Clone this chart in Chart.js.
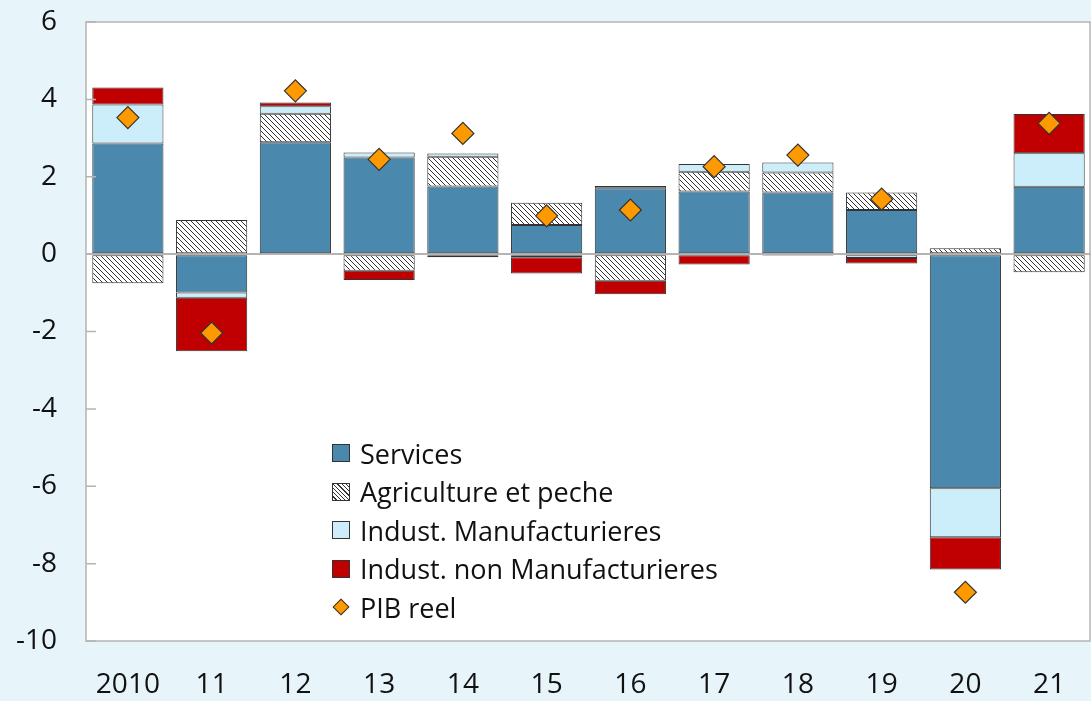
<!DOCTYPE html>
<html lang="fr">
<head>
<meta charset="utf-8">
<title>Contributions à la croissance du PIB réel</title>
<script src="https://cdn.jsdelivr.net/npm/chart.js@4/dist/chart.umd.min.js"></script>
<style>
  html, body { margin: 0; padding: 0; background: #e7f4fa; }
  #wrap { position: relative; width: 1091px; height: 701px; overflow: hidden; }
  #chart { display: block; }
  #legend {
    position: absolute; left: 332px; top: 434px;
    font-family: 'Open Sans', 'Noto Sans', sans-serif; font-size: 27px; color: #111;
  }
  .item { display: flex; align-items: center; height: 38.5px; white-space: nowrap; }
  .sw { width: 18px; height: 18px; box-sizing: border-box; border: 1px solid #333; margin-right: 10px; }
  .sw.services { background: #4a88ad; }
  .sw.agri { background: repeating-linear-gradient(45deg, #fff 0 2px, #333 2px 3px); }
  .sw.manuf { background: #cceefb; }
  .sw.nonmanuf { background: #c00000; }
  .sw.pib { width: 12px; height: 12px; background: #ff9900; transform: rotate(45deg); margin: 0 13px 0 3px; }
</style>
</head>
<body>
<div id="wrap">
  <canvas id="chart" width="1091" height="701"></canvas>
  <div id="legend">
    <div class="item"><span class="sw services"></span>Services</div>
    <div class="item"><span class="sw agri"></span>Agriculture et peche</div>
    <div class="item"><span class="sw manuf"></span>Indust. Manufacturieres</div>
    <div class="item"><span class="sw nonmanuf"></span>Indust. non Manufacturieres</div>
    <div class="item"><span class="sw pib"></span>PIB reel</div>
  </div>
</div>
<script>
'use strict';

// ── Data ─────────────────────────────────────────────────────────────────────

const years = ['2010', '11', '12', '13', '14', '15', '16', '17', '18', '19', '20', '21'];

const services    = [2.86, -0.99, 2.89, 2.50, 1.75, 0.75, 1.70, 1.62, 1.59, 1.14, -6.05, 1.74];
const agriculture = [-0.75, 0.88, 0.74, -0.43, 0.77, 0.58, -0.69, 0.51, 0.52, 0.45, 0.15, -0.47];
const manuf       = [1.01, -0.14, 0.19, 0.13, 0.08, -0.08, 0.06, 0.20, 0.26, -0.10, -1.27, 0.87];
const nonManuf    = [0.44, -1.38, 0.10, -0.24, -0.08, -0.42, -0.35, -0.27, -0.04, -0.14, -0.83, 1.01];
const pibReel     = [3.53, -2.04, 4.22, 2.45, 3.12, 0.99, 1.14, 2.26, 2.56, 1.42, -8.74, 3.38];

const yTicks = [-10, -8, -6, -4, -2, 0, 2, 4, 6];

// ── Helpers ──────────────────────────────────────────────────────────────────

function hatchPattern() {
  const c = document.createElement('canvas');
  c.width = 5; c.height = 5;
  const g = c.getContext('2d');
  g.fillStyle = '#fff';
  g.fillRect(0, 0, 5, 5);
  g.strokeStyle = '#333';
  g.lineWidth = 1;
  g.beginPath();
  g.moveTo(-1, -1); g.lineTo(6, 6);
  g.moveTo(-1, 4); g.lineTo(1, 6);
  g.moveTo(4, -1); g.lineTo(6, 1);
  g.stroke();
  return g.createPattern(c, 'repeat');
}

// plot frame, white fill and small inward ticks on the y axis
const frame = {
  id: 'frame',
  beforeDraw(chart) {
    const { ctx, chartArea: a } = chart;
    ctx.save();
    ctx.fillStyle = '#fff';
    ctx.fillRect(a.left, a.top, a.right - a.left, a.bottom - a.top);
    ctx.restore();
  },
  afterDraw(chart) {
    const { ctx, chartArea: a, scales } = chart;
    ctx.save();
    ctx.strokeStyle = '#b4b4b4';
    ctx.lineWidth = 1.5;
    ctx.strokeRect(a.left, a.top, a.right - a.left - 1, a.bottom - a.top);
    ctx.beginPath();
    for (const v of yTicks) {
      const y = scales.y.getPixelForValue(v);
      ctx.moveTo(a.left, y);
      ctx.lineTo(a.left + 10, y);
    }
    ctx.stroke();
    ctx.restore();
  }
};

// ── Chart ────────────────────────────────────────────────────────────────────

const font = { family: "'Open Sans', 'Noto Sans', sans-serif", size: 28 };
const barStyle = { borderColor: '#333', borderWidth: 1, borderSkipped: false,
                   barPercentage: 0.85, categoryPercentage: 1, order: 2 };

new Chart(document.getElementById('chart'), {
  type: 'bar',
  data: {
    labels: years,
    datasets: [
      { label: 'Services', data: services, backgroundColor: '#4a88ad', ...barStyle },
      { label: 'Agriculture et peche', data: agriculture, backgroundColor: hatchPattern(), ...barStyle },
      { label: 'Indust. Manufacturieres', data: manuf, backgroundColor: '#cceefb', ...barStyle },
      { label: 'Indust. non Manufacturieres', data: nonManuf, backgroundColor: '#c00000', ...barStyle },
      {
        type: 'line', label: 'PIB reel', data: pibReel, order: 1,
        showLine: false, pointStyle: 'rectRot', pointRadius: 11,
        pointBackgroundColor: '#ff9900', pointBorderColor: '#333', pointBorderWidth: 1.2
      }
    ]
  },
  options: {
    responsive: false,
    animation: false,
    layout: { autoPadding: false, padding: { top: 22, right: -5, left: 0, bottom: 0 } },
    plugins: { legend: { display: false }, tooltip: { enabled: false } },
    scales: {
      x: {
        stacked: true,
        grid: { display: false, drawTicks: false },
        border: { display: false },
        ticks: { font, color: '#111', padding: 27 },
        afterFit(s) { s.height = 60; s.paddingLeft = 0; s.paddingRight = -5; }
      },
      y: {
        stacked: true,
        min: -10, max: 6,
        grid: {
          drawTicks: false,
          color: c => c.tick && c.tick.value === 0 ? '#b4b4b4' : 'transparent',
          lineWidth: 2
        },
        border: { display: false },
        ticks: { stepSize: 2, font, color: '#111', padding: 29 },
        afterFit(s) { s.width = 86; s.paddingTop = 0; s.paddingBottom = 0; s.paddingRight = -5; }
      }
    }
  },
  plugins: [frame]
});
</script>
</body>
</html>
